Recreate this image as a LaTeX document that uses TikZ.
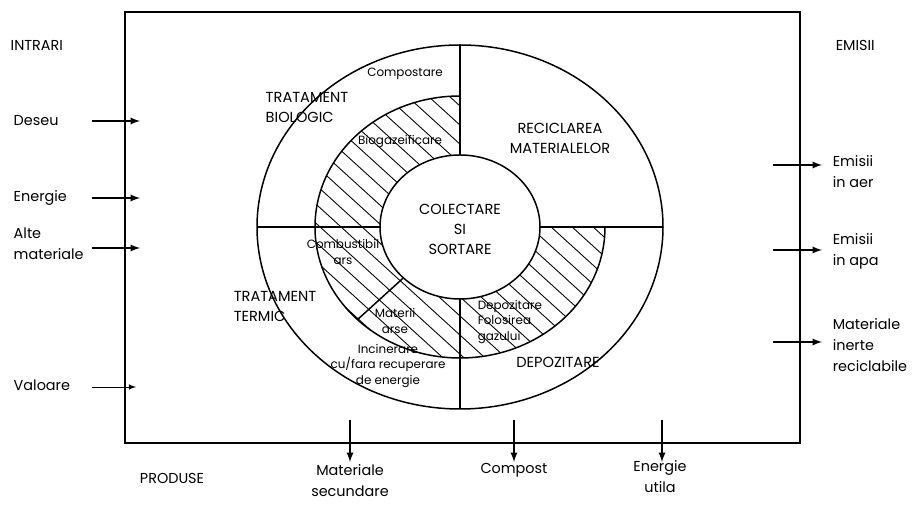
\documentclass[tikz,border=0pt]{standalone}
\usepackage{fontspec}
\setmainfont{Poppins}

\tikzset{
  small/.style={font=\fontsize{6.8}{9}\selectfont, inner sep=0pt},
  caps/.style={font=\fontsize{8.3}{11.4}\selectfont, inner sep=0pt},
  side/.style={font=\fontsize{8.2}{12}\selectfont, inner sep=0pt, align=left},
  hatch/.style={line width=0.5pt},
}

\begin{document}
\begin{tikzpicture}[x=0.02cm, y=0.02cm, >=latex, line width=0.85pt]
  \useasboundingbox (0,0) rectangle (916,506);
  % frame
  \draw (125,63) rectangle (800,494);

  % rings
  \coordinate (c) at (460,279);
  \begin{scope}
    \clip (460,410) arc [start angle=90, end angle=360, x radius=145, y radius=131]
      -- (540,279) arc [start angle=0, end angle=-270, x radius=80, y radius=72] -- cycle;
    \foreach \i in {0,...,32}
      \draw [hatch] (-120+\i*21,450) -- ++(440,-400);
  \end{scope}
  \draw (c) ellipse [x radius=203, y radius=182];
  \draw (c) ellipse [x radius=80, y radius=72];
  \draw (460,410) arc [start angle=90, end angle=360, x radius=145, y radius=131];

  % dividers
  \coordinate (top1) at (460,461);
  \coordinate (top2) at (460,351);
  \coordinate (lft1) at (257,279);
  \coordinate (lft2) at (380,279);
  \coordinate (rgt1) at (540,279);
  \coordinate (rgt2) at (663,279);
  \coordinate (bot1) at (460,207);
  \coordinate (bot2) at (460,97);
  \coordinate (rad1) at (403.4,228.1);
  \coordinate (rad2) at (357.5,186.4);
  \draw (top1) -- (top2);
  \draw (lft1) -- (lft2);
  \draw (rgt1) -- (rgt2);
  \draw (bot1) -- (bot2);
  \draw (rad1) -- (rad2);

  % labels inside
  \node [small] (compost) at (405,432) {Compostare};
  \node [caps, align=left, anchor=west] (biologic) at (265,399) {TRATAMENT\\BIOLOGIC};
  \node [caps, align=center] (reciclare) at (560,368) {RECICLAREA\\MATERIALELOR};
  \node [small] (biogaz) at (400,364) {Biogazeificare};
  \node [caps, align=center] (colectare) at (460,277) {COLECTARE\\SI\\SORTARE};
  \node [small, align=center] (combust) at (343,254) {Combustibil\\ars};
  \node [caps, align=left, anchor=west] (termic) at (233,200) {TRATAMENT\\TERMIC};
  \node [small, align=center] (arse) at (395,185) {Materii\\arse};
  \node [small, align=left, anchor=west] (folosire) at (477,184) {Depozitare\\Folosirea\\gazului};
  \node [caps] (depozit) at (558,144) {DEPOZITARE};
  \node [small, align=center] (incinerare) at (388,140) {Incinerare\\cu/fara recuperare\\de energie};

  % intrari
  \node [side, anchor=west] (intrari) at (10,461) {INTRARI};
  \node [side, anchor=west] (deseu) at (13,385) {Deseu};
  \node [side, anchor=west] (energie) at (13,308) {Energie};
  \node [side, anchor=west] (alte) at (13,262) {Alte\\materiale};
  \node [side, anchor=west] (valoare) at (13,121) {Valoare};
  \coordinate (in1a) at (92,385);
  \coordinate (in1b) at (140,385);
  \coordinate (in2a) at (92,308);
  \coordinate (in2b) at (140,308);
  \coordinate (in3a) at (92,258);
  \coordinate (in3b) at (140,258);
  \coordinate (in4a) at (92,119);
  \coordinate (in4b) at (136,119);
  \draw [->] (in1a) -- (in1b);
  \draw [->] (in2a) -- (in2b);
  \draw [->] (in3a) -- (in3b);
  \draw [->, line width=0.4pt] (in4a) -- (in4b);

  % emisii
  \node [side, anchor=west] (emisii) at (835,461) {EMISII};
  \node [side, anchor=west] (aer) at (832,334) {Emisii\\in aer};
  \node [side, anchor=west] (apa) at (832,255) {Emisii\\in apa};
  \node [side, anchor=west] (inerte) at (832,161) {Materiale\\inerte\\reciclabile};
  \coordinate (out1a) at (773,341);
  \coordinate (out1b) at (822,341);
  \coordinate (out2a) at (773,256);
  \coordinate (out2b) at (822,256);
  \coordinate (out3a) at (773,164);
  \coordinate (out3b) at (822,164);
  \draw [->] (out1a) -- (out1b);
  \draw [->] (out2a) -- (out2b);
  \draw [->] (out3a) -- (out3b);

  % produse
  \node [side, align=center] (produse) at (172,28) {PRODUSE};
  \node [side, align=center] (secundare) at (350,25) {Materiale\\secundare};
  \node [side, align=center] (compostp) at (514,36) {Compost};
  \node [side, align=center] (utila) at (660,29) {Energie\\utila};
  \coordinate (pr1a) at (350,86);
  \coordinate (pr1b) at (350,44);
  \coordinate (pr2a) at (514,86);
  \coordinate (pr2b) at (514,44);
  \coordinate (pr3a) at (662,86);
  \coordinate (pr3b) at (662,44);
  \draw [->] (pr1a) -- (pr1b);
  \draw [->] (pr2a) -- (pr2b);
  \draw [->] (pr3a) -- (pr3b);
\end{tikzpicture}
\end{document}
